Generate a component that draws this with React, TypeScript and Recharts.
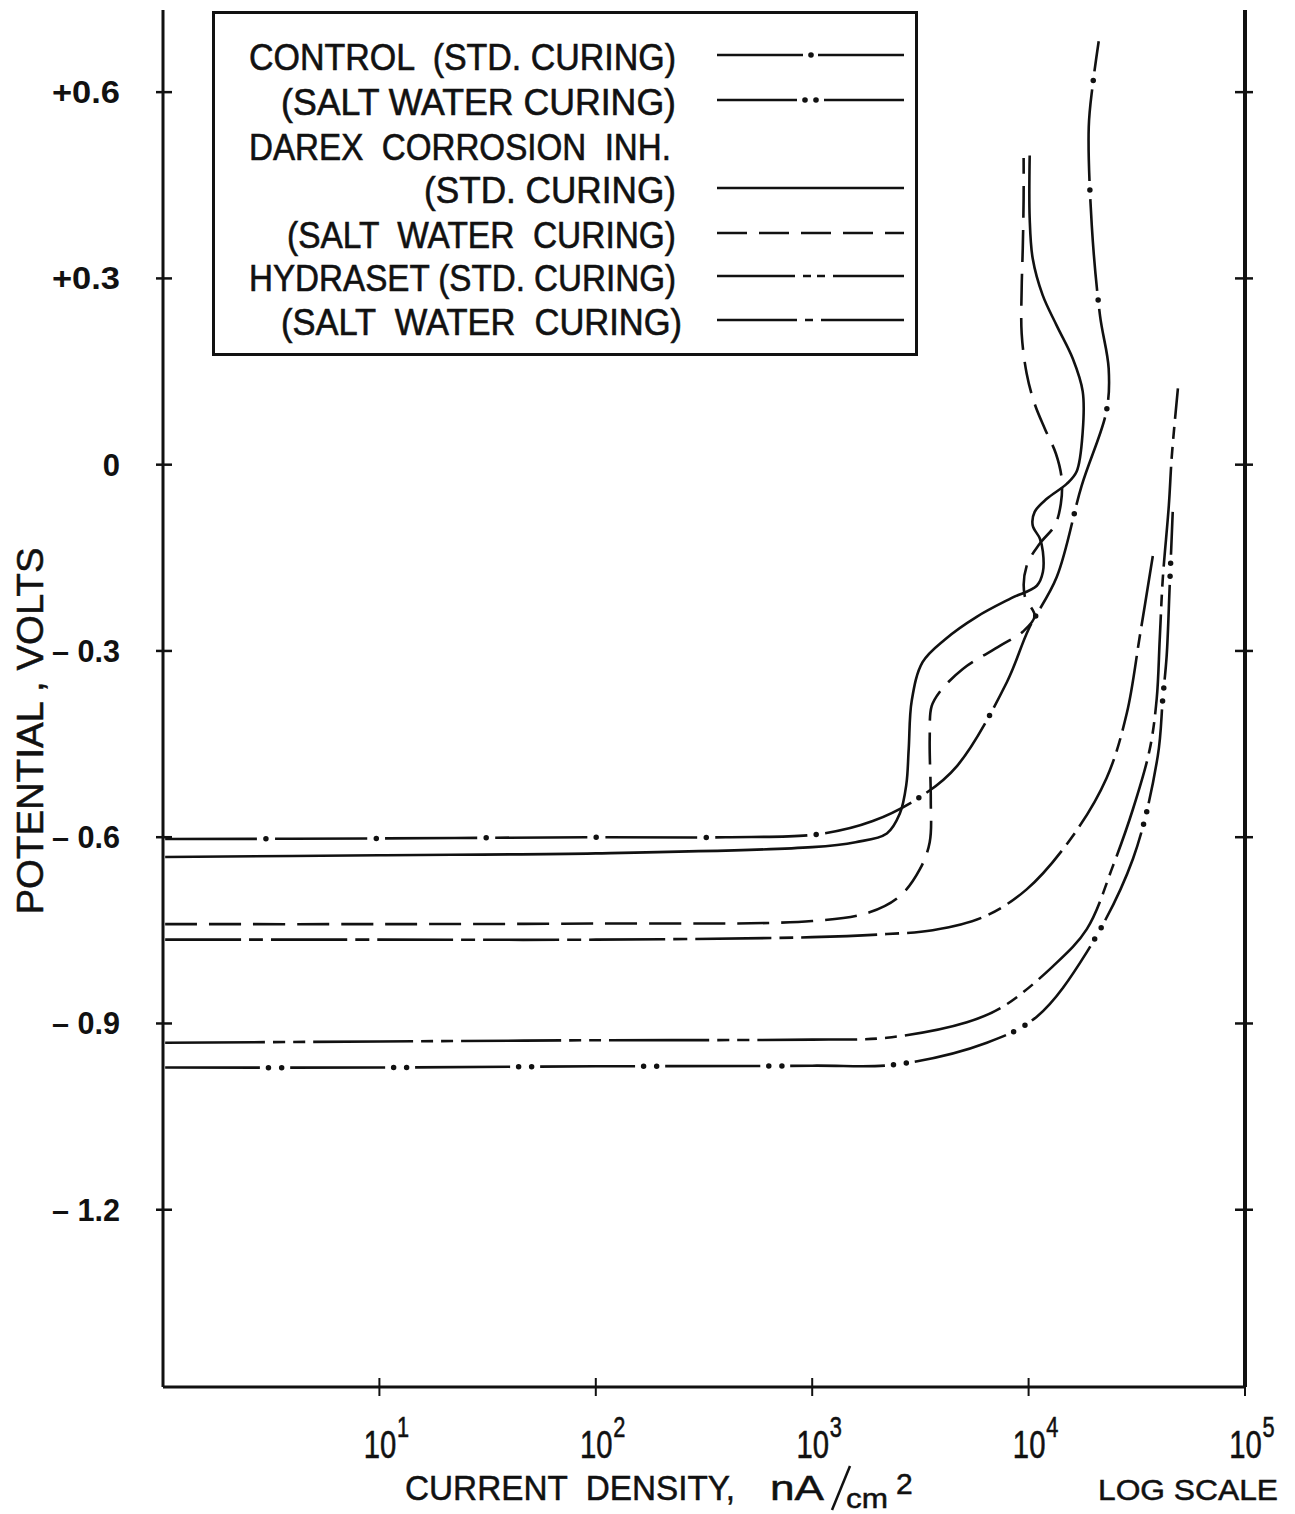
import React from "react";
import { LineChart, Line, XAxis, YAxis, Legend, Label } from "recharts";

// current density as log10(nA/cm2), potential in volts
const controlStdLogI = [0.01, 1.0, 2.0, 2.6, 3.03, 3.28, 3.5, 3.67, 3.9, 4.0, 4.13, 4.245, 4.36, 4.37, 4.33, 4.292, 4.278, 4.296, 4.324];
const controlStdV = [-0.603, -0.602, -0.6, -0.6, -0.595, -0.574, -0.535, -0.485, -0.35, -0.265, -0.181, -0.034, 0.087, 0.155, 0.24, 0.385, 0.544, 0.611, 0.682];

const controlSaltLogI = [0.01, 1.0, 2.0, 3.0, 3.39, 3.807, 4.038, 4.269, 4.482, 4.597, 4.62, 4.638, 4.652, 4.666];
const controlSaltV = [-0.971, -0.971, -0.969, -0.968, -0.966, -0.931, -0.889, -0.785, -0.635, -0.469, -0.377, -0.308, -0.195, -0.076];

const darexStdLogI = [0.01, 1.0, 2.0, 3.0, 3.2, 3.345, 3.405, 3.435, 3.446, 3.46, 3.51, 3.615, 3.76, 3.92, 4.038, 4.066, 4.066, 4.052, 4.019, 4.028, 4.084, 4.176, 4.222, 4.25, 4.25, 4.204, 4.13, 4.065, 4.019, 4.005, 4.005];
const darexStdV = [-0.632, -0.629, -0.626, -0.616, -0.608, -0.594, -0.562, -0.515, -0.458, -0.38, -0.318, -0.281, -0.245, -0.215, -0.195, -0.173, -0.14, -0.119, -0.098, -0.076, -0.055, -0.031, -0.011, 0.053, 0.118, 0.171, 0.224, 0.273, 0.332, 0.397, 0.498];

const darexSaltLogI = [0.01, 1.0, 2.0, 3.0, 3.265, 3.405, 3.497, 3.543, 3.548, 3.543, 3.552, 3.589, 3.696, 3.867, 3.973, 4.028, 3.982, 3.991, 4.052, 4.121, 4.149, 4.153, 4.126, 4.075, 4.028, 3.991, 3.968, 3.968, 3.973, 3.977, 3.977];
const darexSaltV = [-0.74, -0.74, -0.739, -0.735, -0.721, -0.695, -0.652, -0.608, -0.539, -0.442, -0.389, -0.366, -0.329, -0.292, -0.269, -0.244, -0.211, -0.163, -0.127, -0.098, -0.063, -0.023, 0.018, 0.058, 0.098, 0.147, 0.211, 0.284, 0.348, 0.429, 0.494];

const hydrasetStdLogI = [0.01, 1.0, 2.0, 3.0, 3.345, 3.715, 3.881, 4.112, 4.269, 4.389, 4.482, 4.56, 4.592, 4.606, 4.62, 4.648, 4.662, 4.69];
const hydrasetStdV = [-0.931, -0.929, -0.927, -0.926, -0.923, -0.898, -0.873, -0.808, -0.748, -0.647, -0.555, -0.458, -0.377, -0.281, -0.184, -0.066, 0.015, 0.123];

const hydrasetSaltLogI = [0.01, 1.0, 2.0, 3.0, 3.345, 3.557, 3.788, 3.991, 4.2, 4.36, 4.454, 4.514, 4.574];
const hydrasetSaltV = [-0.765, -0.765, -0.765, -0.761, -0.756, -0.75, -0.729, -0.684, -0.6, -0.505, -0.4, -0.276, -0.147];

const yTicks = [0.6, 0.3, 0, -0.3, -0.6, -0.9, -1.2];
const yTickLabels = ["+0.6", "+0.3", "0", "\u2013 0.3", "\u2013 0.6", "\u2013 0.9", "\u2013 1.2"];
const xTicks = [10, 100, 1000, 10000, 100000];
const xTickExps = ["1", "2", "3", "4", "5"];

const legendLabels = [
  "CONTROL  (STD. CURING)",
  "(SALT WATER CURING)",
  "DAREX  CORROSION  INH.",
  "(STD. CURING)",
  "(SALT  WATER  CURING)",
  "HYDRASET (STD. CURING)",
  "(SALT  WATER  CURING)",
];
// which series each legend row shows (null = heading only)
const legendSeries = ["controlStd", "controlSalt", null, "darexStd", "darexSalt", "hydrasetStd", "hydrasetSalt"];

const W = 1295;
const H = 1514;
const INK = "#111";
const FONT = "'Liberation Sans', Arial, sans-serif";

const toPoints = (logI: number[], v: number[]) => logI.map((e, i) => ({ x: Math.pow(10, e), v: v[i] }));

// centripetal catmull-rom, so hand-drawn curves with loops and uneven spacing stay smooth
function catmullRom(ctx: any) {
  let pts: number[][] = [];
  return {
    areaStart() {},
    areaEnd() {},
    lineStart() {
      pts = [];
    },
    point(x: number, y: number) {
      pts.push([+x, +y]);
    },
    lineEnd() {
      const n = pts.length;
      if (!n) return;
      ctx.moveTo(pts[0][0], pts[0][1]);
      for (let i = 0; i < n - 1; i++) {
        const p0 = pts[Math.max(i - 1, 0)];
        const p1 = pts[i];
        const p2 = pts[i + 1];
        const p3 = pts[Math.min(i + 2, n - 1)];
        const d01 = Math.hypot(p1[0] - p0[0], p1[1] - p0[1]);
        const d12 = Math.hypot(p2[0] - p1[0], p2[1] - p1[1]);
        const d23 = Math.hypot(p3[0] - p2[0], p3[1] - p2[1]);
        const a01 = Math.sqrt(d01);
        const a12 = Math.sqrt(d12);
        const a23 = Math.sqrt(d23);
        let c1 = p1;
        let c2 = p2;
        if (a01 > 1e-6) {
          const a = 2 * d01 + 3 * a01 * a12 + d12;
          const m = 3 * a01 * (a01 + a12);
          c1 = [(p1[0] * a - p0[0] * d12 + p2[0] * d01) / m, (p1[1] * a - p0[1] * d12 + p2[1] * d01) / m];
        }
        if (a23 > 1e-6) {
          const b = 2 * d23 + 3 * a23 * a12 + d12;
          const m = 3 * a23 * (a23 + a12);
          c2 = [(p2[0] * b + p1[0] * d23 - p3[0] * d12) / m, (p2[1] * b + p1[1] * d23 - p3[1] * d12) / m];
        }
        ctx.bezierCurveTo(c1[0], c1[1], c2[0], c2[1], p2[0], p2[1]);
      }
    },
  };
}

const series = [
  { key: "controlStd", data: toPoints(controlStdLogI, controlStdV), dash: "92 18", dots: "0 110", dotOffset: 9 },
  { key: "controlSalt", data: toPoints(controlSaltLogI, controlSaltV), dash: "95 30", dots: "0 13 0 112", dotOffset: 21.5 },
  { key: "darexStd", data: toPoints(darexStdLogI, darexStdV), dash: undefined, dots: null, dotOffset: 0 },
  { key: "darexSalt", data: toPoints(darexSaltLogI, darexSaltV), dash: "32 12", dots: null, dotOffset: 0 },
  { key: "hydrasetStd", data: toPoints(hydrasetStdLogI, hydrasetStdV), dash: "100 8 12 8 12 8", dots: null, dotOffset: 0 },
  { key: "hydrasetSalt", data: toPoints(hydrasetSaltLogI, hydrasetSaltV), dash: "76 8 14 8", dots: null, dotOffset: 0 },
];

// legend text placement and sample patterns
const legendRowY = [58, 103, 148, 191, 236, 279, 323];
const legendTextX = [250, 282, 250, 425, 288, 250, 282];
const legendTextRight = [677, 677, 672, 677, 677, 677, 683];
const sampleDash: Record<string, string | undefined> = {
  controlStd: "86 15 86",
  controlSalt: "80 27 80",
  darexStd: undefined,
  darexSalt: "30 12",
  hydrasetStd: "78 8 8 6 8 8 71",
  hydrasetSalt: "80 8 8 8 83",
};

function LegendBox() {
  const bx = 213;
  const by = 12;
  return (
    <svg width={706} height={346} style={{ display: "block" }}>
      <rect x={1.5} y={1.5} width={703} height={342} fill="#fff" stroke={INK} strokeWidth={3} />
      {legendLabels.map((t, i) => (
        <text
          key={i}
          x={legendTextRight[i] - bx}
          y={legendRowY[i] - by + 13}
          textAnchor="end"
          fontFamily={FONT}
          fontSize={36}
          fill={INK}
          stroke={INK}
          strokeWidth={0.6}
          textLength={legendTextRight[i] - legendTextX[i]}
          lengthAdjust="spacingAndGlyphs"
          style={{ whiteSpace: "pre" }}
        >
          {t}
        </text>
      ))}
      {legendSeries.map((k, i) => {
        if (!k) return null;
        const y = legendRowY[i] - by - 2;
        return (
          <g key={k}>
            <line x1={718 - bx} x2={905 - bx} y1={y} y2={y} stroke={INK} strokeWidth={2.5} strokeDasharray={sampleDash[k]} />
            {k === "controlStd" && <circle cx={812 - bx} cy={y} r={2.8} fill={INK} />}
            {k === "controlSalt" && (
              <>
                <circle cx={806 - bx} cy={y} r={2.8} fill={INK} />
                <circle cx={817 - bx} cy={y} r={2.8} fill={INK} />
              </>
            )}
          </g>
        );
      })}
    </svg>
  );
}

function XTick(props: any) {
  const { x, y, index } = props;
  return (
    <g>
      <line x1={x} x2={x} y1={y - 9} y2={y + 9} stroke={INK} strokeWidth={2} />
      <g transform={`translate(${x} ${y}) scale(0.75 1)`}>
        <text x={-21} y={71} fontFamily={FONT} fontSize={39} fill={INK} stroke={INK} strokeWidth={0.6}>
          10
          <tspan dx={1} dy={-21} fontSize={29}>
            {xTickExps[index]}
          </tspan>
        </text>
      </g>
    </g>
  );
}

function YTickLeft(props: any) {
  const { x, y, index } = props;
  const label = yTickLabels[index];
  return (
    <g>
      <line x1={x - 7} x2={x + 9} y1={y} y2={y} stroke={INK} strokeWidth={2.5} />
      <text
        x={x - 43}
        y={y + 11}
        textAnchor="end"
        fontFamily={FONT}
        fontWeight="bold"
        fontSize={31}
        fill={INK}
        textLength={label.length > 1 ? 68 : undefined}
        lengthAdjust="spacingAndGlyphs"
        style={{ whiteSpace: "pre" }}
      >
        {label}
      </text>
    </g>
  );
}

function YTickRight(props: any) {
  const { x, y } = props;
  return <line x1={x - 10} x2={x + 8} y1={y} y2={y} stroke={INK} strokeWidth={2.5} />;
}

function XTitle() {
  return (
    <g fontFamily={FONT} fill={INK} stroke={INK} strokeWidth={0.5}>
      <text x={405} y={1500} fontSize={35} textLength={330} lengthAdjust="spacingAndGlyphs" style={{ whiteSpace: "pre" }}>
        CURRENT  DENSITY,
      </text>
      <text x={770} y={1500} fontSize={35} textLength={54} lengthAdjust="spacingAndGlyphs">
        nA
      </text>
      <line x1={850} y1={1466} x2={832} y2={1510} stroke={INK} strokeWidth={2.5} />
      <text x={846} y={1508} fontSize={28} textLength={42} lengthAdjust="spacingAndGlyphs">
        cm
      </text>
      <text x={896} y={1494} fontSize={30}>
        2
      </text>
      <text x={1098} y={1500} fontSize={29} textLength={180} lengthAdjust="spacingAndGlyphs">
        LOG SCALE
      </text>
    </g>
  );
}

function YTitle() {
  return (
    <text
      x={0}
      y={0}
      transform="translate(43 731) rotate(-90)"
      textAnchor="middle"
      fontFamily={FONT}
      fontSize={36}
      fill={INK}
      stroke={INK}
      strokeWidth={0.5}
      textLength={367}
      lengthAdjust="spacingAndGlyphs"
      style={{ whiteSpace: "pre" }}
    >
      POTENTIAL , VOLTS
    </text>
  );
}

export default function App() {
  const yDomain = [-1.4855, 0.7323];
  return (
    <div style={{ width: W, height: H, background: "#fff" }}>
      <style>{"body{margin:0;background:#fff}"}</style>
      <LineChart width={W} height={H} margin={{ top: 10, right: 0, bottom: 0, left: 0 }}>
        <XAxis
          dataKey="x"
          type="number"
          scale="log"
          domain={[1, 100000]}
          ticks={xTicks}
          interval={0}
          allowDataOverflow
          height={127}
          axisLine={{ stroke: INK, strokeWidth: 3 }}
          tickLine={false}
          tickSize={0}
          tickMargin={0}
          tick={<XTick />}
        >
          <Label content={<XTitle />} />
        </XAxis>
        <YAxis
          yAxisId="l"
          type="number"
          domain={yDomain}
          ticks={yTicks}
          interval={0}
          allowDataOverflow
          width={163}
          axisLine={{ stroke: INK, strokeWidth: 3 }}
          tickLine={false}
          tickSize={0}
          tickMargin={0}
          tick={<YTickLeft />}
        >
          <Label content={<YTitle />} />
        </YAxis>
        <YAxis
          yAxisId="r"
          orientation="right"
          type="number"
          domain={yDomain}
          ticks={yTicks}
          interval={0}
          allowDataOverflow
          width={50}
          axisLine={{ stroke: INK, strokeWidth: 4 }}
          tickLine={false}
          tickSize={0}
          tickMargin={0}
          tick={<YTickRight />}
        />
        <Legend
          layout="horizontal"
          verticalAlign="middle"
          align="center"
          content={<LegendBox />}
          wrapperStyle={{ left: 212, top: 11, width: 706, height: 346 }}
        />
        {series.map((s) => (
          <Line
            key={s.key}
            yAxisId="l"
            data={s.data}
            dataKey="v"
            type={catmullRom as any}
            stroke={INK}
            strokeWidth={2.6}
            strokeDasharray={s.dash}
            dot={false}
            activeDot={false}
            isAnimationActive={false}
            legendType="none"
          />
        ))}
        {series
          .filter((s) => s.dots)
          .map((s) => (
            <Line
              key={s.key + "-dots"}
              yAxisId="l"
              data={s.data}
              dataKey="v"
              type={catmullRom as any}
              stroke={INK}
              strokeWidth={5.5}
              strokeLinecap="round"
              strokeDasharray={s.dots as string}
              strokeDashoffset={s.dotOffset}
              dot={false}
              activeDot={false}
              isAnimationActive={false}
              legendType="none"
            />
          ))}
      </LineChart>
    </div>
  );
}
